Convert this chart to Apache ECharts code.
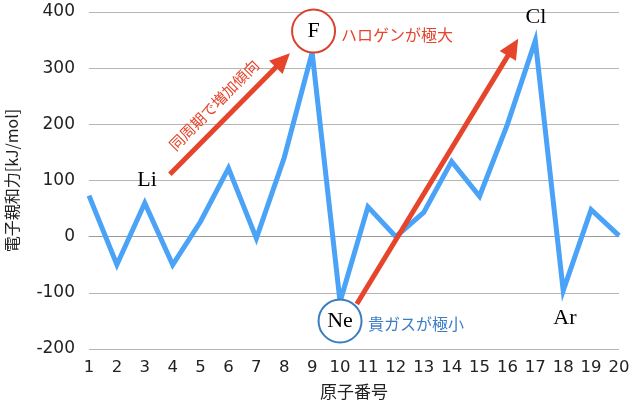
<!DOCTYPE html>
<html>
<head>
<meta charset="utf-8">
<script src="https://cdn.jsdelivr.net/npm/echarts@6/dist/echarts.min.js"></script>
<style>
html,body{margin:0;padding:0;background:#fff;}
#chart{width:640px;height:405px;}
</style>
</head>
<body>
<div id="chart"></div>
<script>
// Data
var atomicNumbers = [1,2,3,4,5,6,7,8,9,10,11,12,13,14,15,16,17,18,19,20];
var electronAffinity = [73,-50,60,-50,27,122,-3,141,328,-116,53,0,43,134,72,200,349,-96,48,2];
var yTicks = [-200,-100,0,100,200,300,400];
var xTitle = '原子番号';
var yTitle = '電子親和力[kJ/mol]';
var noteUp = '同周期で増加傾向';
var noteHalogen = 'ハロゲンが極大';
var noteNoble = '貴ガスが極小';

var sans = '"Noto Sans CJK JP", "Noto Sans", sans-serif';
var num = '"DejaVu Sans", sans-serif';
var serif = '"Liberation Serif", "DejaVu Serif", serif';
var RED = '#E6442B';
var BLUE_TXT = '#3B7DC4';

var seriesData = atomicNumbers.map(function (n, i) { return [n, electronAffinity[i]]; });

function textPoint(coord, text, color, size, family) {
  return {
    coord: coord, symbol: 'circle', symbolSize: 0,
    label: { show: true, position: 'inside', formatter: text, color: color, fontSize: size, fontFamily: family }
  };
}
function circlePoint(coord, text, color) {
  return {
    coord: coord, symbol: 'circle', symbolSize: 43,
    itemStyle: { color: '#fff', borderColor: color, borderWidth: 2 },
    label: { show: true, position: 'inside', formatter: text, color: '#000', fontSize: 22, fontFamily: serif }
  };
}

var chart = echarts.init(document.getElementById('chart'), null, { renderer: 'canvas' });
chart.setOption({
  animation: false,
  grid: { left: 89, right: 21, top: 12, bottom: 56, containLabel: false, outerBoundsMode: 'none' },
  xAxis: {
    type: 'value', min: 1, max: 20, interval: 1,
    name: xTitle, nameLocation: 'middle', nameGap: 34,
    nameTextStyle: { fontFamily: sans, fontSize: 17, color: '#222' },
    axisLine: { show: true, lineStyle: { color: '#9a9a9a', width: 1 } },
    axisTick: { show: false },
    splitLine: { show: false },
    axisLabel: { fontFamily: num, fontSize: 16.5, color: '#222', margin: 10 }
  },
  yAxis: {
    type: 'value', min: yTicks[0], max: yTicks[yTicks.length - 1], interval: 100,
    name: yTitle, nameLocation: 'middle', nameGap: 69,
    nameTextStyle: { fontFamily: sans, fontSize: 16, color: '#222' },
    axisLine: { show: false },
    axisTick: { show: false },
    splitLine: { show: true, lineStyle: { color: '#b5b5b5', width: 1 } },
    axisLabel: { fontFamily: num, fontSize: 17, color: '#222', margin: 14 }
  },
  series: [
    {
      type: 'line', data: [], z: 1, silent: true,
      markLine: {
        silent: true,
        symbol: ['none', 'triangle'], symbolSize: [19, 20],
        lineStyle: { color: RED, width: 5, type: 'solid' },
        itemStyle: { color: RED },
        label: { show: false },
        data: [
          [
            { coord: [3.9, 111], label: { show: true, position: 'middle', formatter: noteUp, color: RED, fontSize: 15, fontFamily: sans, distance: 10 } },
            { coord: [7.95, 314] }
          ],
          [
            { coord: [10.6, -120] },
            { coord: [16.2, 337] }
          ]
        ]
      }
    },
    {
      type: 'line', data: seriesData, z: 3,
      showSymbol: false, symbol: 'none',
      lineStyle: { color: '#4BA3F7', width: 5, join: 'miter' },
      markPoint: {
        silent: true,
        data: [
          circlePoint([9.05, 366], 'F', '#D9432F'),
          circlePoint([10.0, -150], 'Ne', '#3B7DC4'),
          textPoint([12.04, 359], noteHalogen, RED, 16, sans),
          textPoint([12.72, -155], noteNoble, BLUE_TXT, 16, sans),
          textPoint([3.08, 100], 'Li', '#000', 22, serif),
          textPoint([17.02, 391], 'Cl', '#000', 22, serif),
          textPoint([18.06, -145], 'Ar', '#000', 22, serif)
        ]
      }
    }
  ]
});
</script>
</body>
</html>
